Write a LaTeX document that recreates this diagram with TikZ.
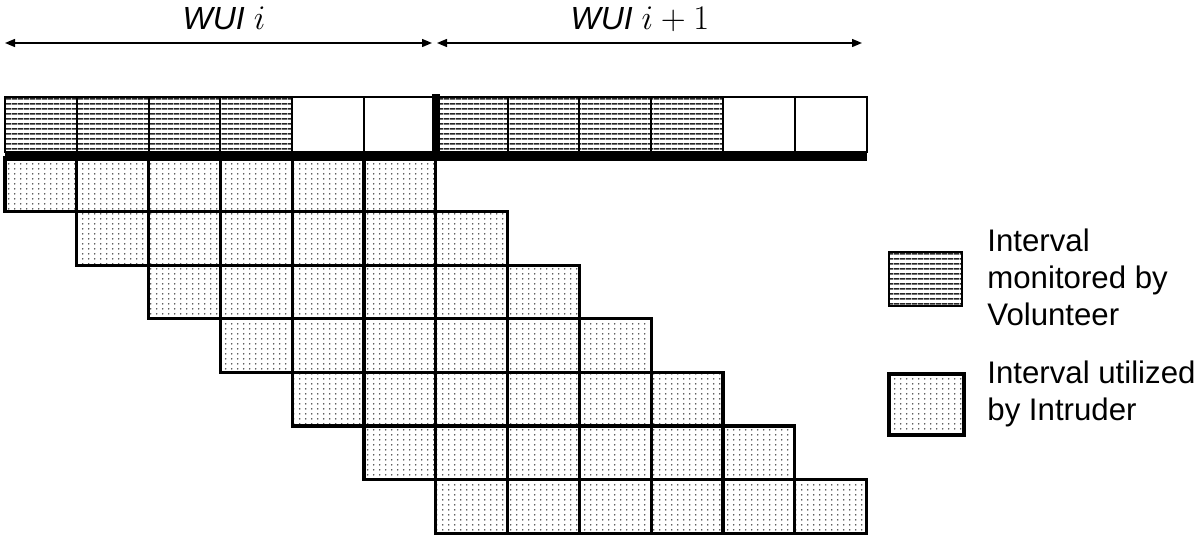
\documentclass[tikz,border=0pt]{standalone}
\usepackage{fontspec}
\setmainfont{Liberation Sans}
\usetikzlibrary{patterns,arrows.meta}

% horizontal hatching, one line every 2.5pt
\pgfdeclarepatternformonly{hatchrows}{\pgfqpoint{0pt}{0pt}}{\pgfqpoint{3pt}{2.5pt}}{\pgfqpoint{3pt}{2.5pt}}{%
  \pgfsetlinewidth{0.85pt}%
  \pgfpathmoveto{\pgfqpoint{-0.1pt}{1.25pt}}%
  \pgfpathlineto{\pgfqpoint{3.1pt}{1.25pt}}%
  \pgfusepath{stroke}}
% sparse dot screen
\pgfdeclarepatternformonly{dotscreen}{\pgfqpoint{0pt}{0pt}}{\pgfqpoint{3.1pt}{2.5pt}}{\pgfqpoint{3.1pt}{2.5pt}}{%
  \pgfpathcircle{\pgfqpoint{1.55pt}{1.25pt}}{0.48pt}%
  \pgfusepath{fill}}

\begin{document}
\begin{tikzpicture}[x=0.5pt,y=-0.5pt,
  hatchfill/.style={pattern=hatchrows,pattern color=black!85},
  dotfill/.style={pattern=dotscreen,pattern color=black!85},
  topcell/.style={draw=black,line width=1pt,rectangle,inner sep=0pt,outer sep=0pt,
    minimum width=35.9pt,minimum height=27.5pt,anchor=north west},
  dotcell/.style={draw=black,line width=1.6pt,rectangle,inner sep=0pt,outer sep=0pt,
    minimum width=35.9pt,minimum height=26.8pt,anchor=north west,dotfill},
  span/.style={line width=0.7pt,{Triangle[length=5pt,width=4pt]}-{Triangle[length=5pt,width=4pt]}},
  wui/.style={font=\fontsize{16}{19}\selectfont,anchor=base},
  legtext/.style={font=\fontsize{15.6}{18.5}\selectfont,anchor=base west,inner sep=0pt}
]
\useasboundingbox (0,0) rectangle (1195,536);

% top row: monitored (hatched) and free slots
\foreach \c in {0,1,2,3,6,7,8,9}
  \node[topcell,hatchfill] (t\c) at ({5+71.8*\c},97) {};
\foreach \c in {4,5,10,11}
  \node[topcell,fill=white] (t\c) at ({5+71.8*\c},97) {};

% heavy base line under the top row and boundary between the two WUIs
\draw[line width=4.5pt] ([yshift=-2pt]t0.south west) -- ([yshift=-2pt]t11.south east);
\draw[line width=4pt] ([yshift=1.5pt]t6.north west) -- ([yshift=-2pt]t6.south west);

% staircase of intruder intervals
\foreach \r in {0,...,6}
  \foreach \k in {0,...,5} {
    \pgfmathtruncatemacro\c{\r+\k}
    \node[dotcell] (d\r-\c) at ({5+71.8*\c},{158+53.6*\r}) {};
  }

% WUI spans
\coordinate (a0) at (5,43);
\coordinate (a1) at (432,43);
\coordinate (b0) at (437,43);
\coordinate (b1) at (862,43);
\draw[span] (a0) -- (a1);
\draw[span] (b0) -- (b1);
\node[wui] (la) at (224,29) {\textit{WUI} $i$};
\node[wui] (lb) at (640,29) {\textit{WUI} $i+1$};

% legend
\node[draw=black,line width=1pt,hatchfill,inner sep=0pt,minimum width=36.5pt,minimum height=27pt,anchor=north west] (k1) at (888,251) {};
\node[draw=black,line width=2pt,dotfill,inner sep=0pt,minimum width=37.5pt,minimum height=30.5pt,anchor=north west] (k2) at (887,372) {};
\node[legtext] (k1t) at (987,251) {\begin{tabular}[t]{@{}l@{}}Interval\\monitored by\\Volunteer\end{tabular}};
\node[legtext] (k2t) at (987,383) {\begin{tabular}[t]{@{}l@{}}Interval utilized\\by Intruder\end{tabular}};
\end{tikzpicture}
\end{document}
